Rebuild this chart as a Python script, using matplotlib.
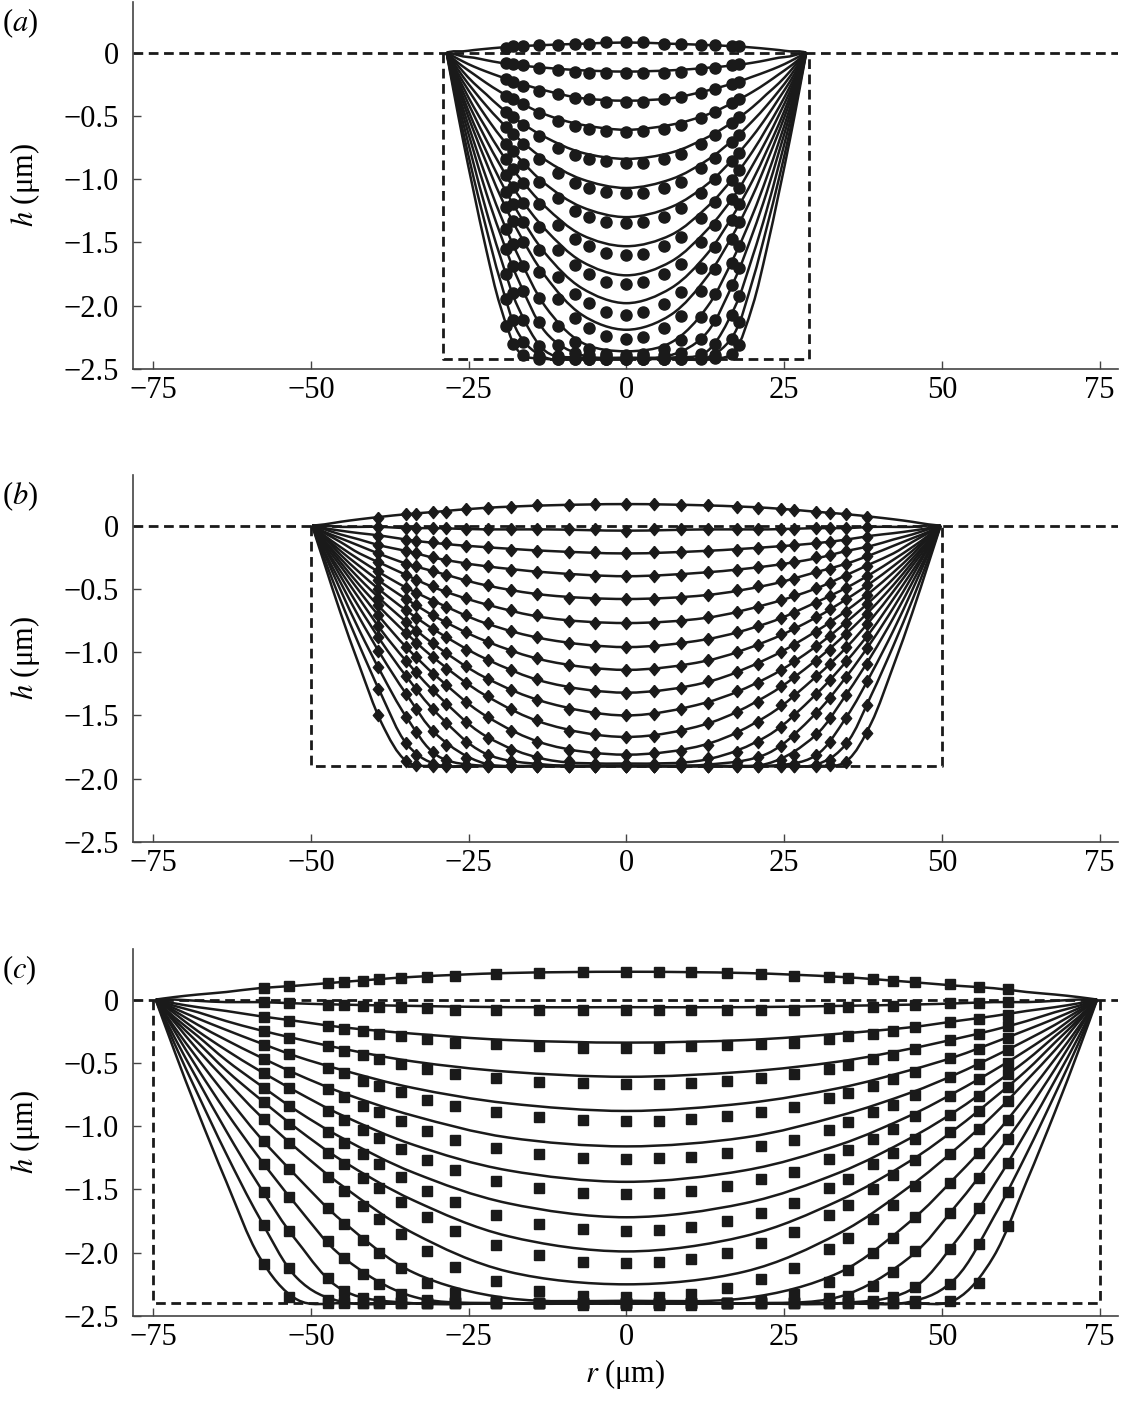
import numpy as np
import matplotlib
matplotlib.use('Agg')
import matplotlib.pyplot as plt
from matplotlib.path import Path
from matplotlib.patches import PathPatch

# all depths in um below the surface (h = -depth), negative = above the surface
# fitted profiles are half profiles from r = 0 out to the contact line

# ---- panel (a) ----
a_well = [29.0, 2.42]  # half width, depth of the dashed well
a_r_fit = [0, 7.1, 12.8, 17.1, 20.0, 22.2, 24.2, 25.9, 27.4, 28.5]
a_fit = [
    [-0.08, -0.07, -0.06, -0.05, -0.04, -0.03, -0.02, -0.01, -0.01, 0],
    [0.15, 0.14, 0.12, 0.10, 0.08, 0.06, 0.04, 0.03, 0.01, 0],
    [0.38, 0.36, 0.30, 0.24, 0.19, 0.15, 0.11, 0.07, 0.03, 0],
    [0.61, 0.57, 0.49, 0.39, 0.31, 0.24, 0.17, 0.11, 0.05, 0],
    [0.84, 0.79, 0.67, 0.54, 0.43, 0.33, 0.24, 0.15, 0.06, 0],
    [1.07, 1.00, 0.85, 0.68, 0.54, 0.42, 0.30, 0.19, 0.08, 0],
    [1.30, 1.22, 1.04, 0.83, 0.66, 0.51, 0.36, 0.23, 0.10, 0],
    [1.53, 1.44, 1.22, 0.98, 0.78, 0.60, 0.43, 0.27, 0.12, 0],
    [1.76, 1.65, 1.40, 1.13, 0.89, 0.69, 0.49, 0.31, 0.13, 0],
    [1.98, 1.86, 1.59, 1.27, 1.01, 0.78, 0.56, 0.35, 0.15, 0],
    [2.19, 2.07, 1.77, 1.42, 1.13, 0.87, 0.62, 0.39, 0.17, 0],
    [2.36, 2.29, 2.01, 1.61, 1.28, 0.99, 0.70, 0.44, 0.19, 0],
    [2.41, 2.39, 2.21, 1.80, 1.43, 1.11, 0.78, 0.49, 0.21, 0],
    [2.42, 2.41, 2.36, 2.02, 1.61, 1.25, 0.88, 0.55, 0.24, 0],
    [2.42, 2.42, 2.41, 2.22, 1.80, 1.39, 0.99, 0.62, 0.27, 0],
    [2.42, 2.42, 2.42, 2.36, 2.00, 1.56, 1.10, 0.69, 0.30, 0],
]
a_r_data = [-19.1, -18.0, -16.4, -13.8, -10.9, -8.2, -6.0, -3.2, 0.0, 2.7, 5.9, 8.7, 11.9, 14.1, 16.7, 17.9]
a_data = [
    [-0.04, -0.05, -0.05, -0.06, -0.06, -0.07, -0.07, -0.08, -0.08, -0.08, -0.07, -0.07, -0.06, -0.06, -0.05, -0.05],
    [0.08, 0.09, 0.10, 0.12, 0.14, 0.15, 0.16, 0.16, 0.16, 0.16, 0.16, 0.15, 0.13, 0.12, 0.10, 0.09],
    [0.21, 0.23, 0.26, 0.30, 0.33, 0.36, 0.37, 0.39, 0.39, 0.39, 0.37, 0.35, 0.32, 0.29, 0.25, 0.23],
    [0.34, 0.37, 0.41, 0.48, 0.54, 0.58, 0.60, 0.62, 0.63, 0.62, 0.60, 0.57, 0.52, 0.47, 0.40, 0.37],
    [0.47, 0.51, 0.57, 0.66, 0.75, 0.81, 0.84, 0.86, 0.87, 0.87, 0.84, 0.80, 0.72, 0.65, 0.56, 0.51],
    [0.59, 0.64, 0.72, 0.84, 0.95, 1.03, 1.07, 1.10, 1.11, 1.11, 1.07, 1.02, 0.91, 0.83, 0.71, 0.65],
    [0.72, 0.78, 0.88, 1.02, 1.15, 1.25, 1.30, 1.34, 1.35, 1.34, 1.30, 1.23, 1.11, 1.00, 0.86, 0.79],
    [0.84, 0.92, 1.03, 1.20, 1.36, 1.47, 1.53, 1.58, 1.60, 1.59, 1.53, 1.46, 1.31, 1.18, 1.01, 0.93],
    [0.97, 1.06, 1.19, 1.38, 1.56, 1.68, 1.75, 1.81, 1.83, 1.81, 1.75, 1.67, 1.50, 1.36, 1.16, 1.07],
    [1.10, 1.20, 1.34, 1.56, 1.77, 1.91, 1.98, 2.05, 2.07, 2.05, 1.99, 1.89, 1.70, 1.54, 1.32, 1.20],
    [1.22, 1.33, 1.50, 1.73, 1.95, 2.10, 2.18, 2.24, 2.26, 2.25, 2.18, 2.08, 1.88, 1.71, 1.47, 1.34],
    [1.39, 1.51, 1.69, 1.94, 2.16, 2.29, 2.34, 2.38, 2.39, 2.38, 2.34, 2.27, 2.09, 1.91, 1.66, 1.53],
    [1.55, 1.69, 1.88, 2.13, 2.31, 2.37, 2.39, 2.40, 2.41, 2.40, 2.39, 2.37, 2.26, 2.11, 1.84, 1.70],
    [1.75, 1.90, 2.11, 2.32, 2.40, 2.41, 2.42, 2.42, 2.42, 2.42, 2.42, 2.41, 2.38, 2.30, 2.07, 1.92],
    [1.95, 2.11, 2.29, 2.40, 2.42, 2.42, 2.42, 2.42, 2.42, 2.42, 2.42, 2.42, 2.41, 2.39, 2.26, 2.13],
    [2.16, 2.30, 2.39, 2.42, 2.42, 2.42, 2.42, 2.42, 2.42, 2.42, 2.42, 2.42, 2.42, 2.41, 2.38, 2.31],
]

# ---- panel (b) ----
b_well = [50.0, 1.90]
b_r_fit = [0, 12.5, 22.4, 29.9, 34.9, 38.8, 42.3, 45.3, 47.8, 49.8]
b_fit = [
    [-0.17, -0.16, -0.14, -0.11, -0.09, -0.07, -0.05, -0.03, -0.01, 0],
    [0.04, 0.03, 0.03, 0.02, 0.02, 0.01, 0.01, 0.01, 0.00, 0],
    [0.22, 0.20, 0.17, 0.14, 0.11, 0.08, 0.06, 0.04, 0.02, 0],
    [0.40, 0.37, 0.32, 0.26, 0.20, 0.16, 0.11, 0.07, 0.03, 0],
    [0.58, 0.55, 0.47, 0.37, 0.30, 0.23, 0.16, 0.10, 0.05, 0],
    [0.77, 0.73, 0.62, 0.50, 0.39, 0.30, 0.22, 0.13, 0.06, 0],
    [0.96, 0.90, 0.77, 0.61, 0.49, 0.38, 0.27, 0.17, 0.08, 0],
    [1.14, 1.07, 0.91, 0.73, 0.58, 0.45, 0.32, 0.20, 0.09, 0],
    [1.32, 1.24, 1.05, 0.84, 0.67, 0.52, 0.37, 0.23, 0.10, 0],
    [1.50, 1.40, 1.20, 0.96, 0.76, 0.59, 0.42, 0.26, 0.12, 0],
    [1.67, 1.57, 1.34, 1.07, 0.85, 0.66, 0.47, 0.29, 0.13, 0],
    [1.81, 1.73, 1.50, 1.20, 0.96, 0.74, 0.52, 0.32, 0.15, 0],
    [1.88, 1.85, 1.66, 1.34, 1.07, 0.83, 0.58, 0.36, 0.17, 0],
    [1.90, 1.89, 1.80, 1.49, 1.19, 0.92, 0.65, 0.40, 0.18, 0],
    [1.90, 1.90, 1.88, 1.66, 1.33, 1.03, 0.73, 0.45, 0.21, 0],
    [1.90, 1.90, 1.90, 1.82, 1.51, 1.17, 0.83, 0.51, 0.23, 0],
    [1.90, 1.90, 1.90, 1.89, 1.72, 1.34, 0.95, 0.59, 0.27, 0],
    [1.90, 1.90, 1.90, 1.90, 1.86, 1.56, 1.11, 0.69, 0.31, 0],
]
b_r_data = [-39.3, -34.9, -33.3, -30.7, -28.6, -25.4, -22.0, -18.3, -14.1, -9.1, -4.9, 0.0,
            4.3, 8.6, 12.9, 17.6, 20.8, 24.5, 26.6, 30.1, 32.2, 34.8, 38.1]
b_data = [
    [-0.06, -0.09, -0.09, -0.11, -0.11, -0.13, -0.14, -0.15, -0.16, -0.16, -0.17, -0.17, -0.17, -0.16, -0.16, -0.15, -0.14, -0.13, -0.12, -0.11, -0.10, -0.09, -0.07],
    [0.01, 0.02, 0.02, 0.02, 0.02, 0.03, 0.03, 0.03, 0.03, 0.03, 0.03, 0.04, 0.03, 0.03, 0.03, 0.03, 0.03, 0.03, 0.03, 0.02, 0.02, 0.02, 0.01],
    [0.08, 0.11, 0.12, 0.13, 0.14, 0.16, 0.17, 0.19, 0.20, 0.21, 0.21, 0.22, 0.21, 0.21, 0.20, 0.19, 0.18, 0.16, 0.15, 0.14, 0.13, 0.11, 0.09],
    [0.15, 0.20, 0.22, 0.25, 0.27, 0.30, 0.32, 0.35, 0.37, 0.39, 0.40, 0.40, 0.40, 0.39, 0.37, 0.35, 0.33, 0.30, 0.29, 0.25, 0.23, 0.20, 0.17],
    [0.22, 0.30, 0.32, 0.36, 0.39, 0.43, 0.47, 0.51, 0.54, 0.57, 0.58, 0.58, 0.58, 0.57, 0.55, 0.51, 0.48, 0.44, 0.42, 0.37, 0.34, 0.30, 0.24],
    [0.29, 0.39, 0.43, 0.48, 0.52, 0.57, 0.62, 0.67, 0.71, 0.75, 0.77, 0.77, 0.77, 0.75, 0.72, 0.68, 0.64, 0.59, 0.55, 0.49, 0.45, 0.40, 0.32],
    [0.36, 0.49, 0.53, 0.60, 0.64, 0.71, 0.77, 0.83, 0.88, 0.93, 0.95, 0.96, 0.95, 0.93, 0.90, 0.84, 0.79, 0.73, 0.69, 0.61, 0.56, 0.49, 0.40],
    [0.43, 0.58, 0.63, 0.71, 0.76, 0.84, 0.92, 0.99, 1.05, 1.10, 1.13, 1.14, 1.13, 1.11, 1.06, 1.00, 0.94, 0.86, 0.81, 0.72, 0.66, 0.58, 0.47],
    [0.50, 0.67, 0.73, 0.82, 0.88, 0.98, 1.06, 1.14, 1.21, 1.28, 1.31, 1.32, 1.31, 1.28, 1.23, 1.16, 1.09, 1.00, 0.94, 0.84, 0.77, 0.68, 0.55],
    [0.57, 0.76, 0.83, 0.93, 1.01, 1.11, 1.21, 1.30, 1.38, 1.45, 1.48, 1.50, 1.49, 1.45, 1.40, 1.31, 1.24, 1.14, 1.07, 0.95, 0.87, 0.77, 0.62],
    [0.63, 0.85, 0.93, 1.04, 1.13, 1.24, 1.35, 1.45, 1.54, 1.62, 1.65, 1.67, 1.66, 1.62, 1.56, 1.47, 1.39, 1.27, 1.20, 1.07, 0.98, 0.86, 0.70],
    [0.71, 0.96, 1.04, 1.17, 1.26, 1.39, 1.51, 1.62, 1.71, 1.77, 1.80, 1.81, 1.80, 1.78, 1.73, 1.64, 1.55, 1.42, 1.34, 1.19, 1.09, 0.96, 0.78],
    [0.79, 1.07, 1.16, 1.30, 1.41, 1.55, 1.68, 1.77, 1.83, 1.86, 1.88, 1.88, 1.88, 1.87, 1.84, 1.79, 1.71, 1.59, 1.50, 1.33, 1.22, 1.07, 0.87],
    [0.88, 1.19, 1.29, 1.45, 1.56, 1.71, 1.81, 1.86, 1.88, 1.89, 1.90, 1.90, 1.90, 1.89, 1.89, 1.87, 1.83, 1.74, 1.66, 1.48, 1.36, 1.20, 0.97],
    [0.99, 1.33, 1.45, 1.62, 1.73, 1.84, 1.88, 1.89, 1.90, 1.90, 1.90, 1.90, 1.90, 1.90, 1.90, 1.89, 1.89, 1.85, 1.81, 1.65, 1.52, 1.34, 1.09],
    [1.12, 1.51, 1.63, 1.79, 1.85, 1.89, 1.90, 1.90, 1.90, 1.90, 1.90, 1.90, 1.90, 1.90, 1.90, 1.90, 1.90, 1.89, 1.88, 1.81, 1.71, 1.52, 1.23],
    [1.29, 1.72, 1.81, 1.88, 1.89, 1.90, 1.90, 1.90, 1.90, 1.90, 1.90, 1.90, 1.90, 1.90, 1.90, 1.90, 1.90, 1.90, 1.90, 1.89, 1.85, 1.72, 1.42],
    [1.50, 1.86, 1.89, 1.90, 1.90, 1.90, 1.90, 1.90, 1.90, 1.90, 1.90, 1.90, 1.90, 1.90, 1.90, 1.90, 1.90, 1.90, 1.90, 1.90, 1.89, 1.87, 1.64],
]

# ---- panel (c) ----
c_well = [75.0, 2.40]
c_r_fit = [0, 18.7, 33.6, 44.8, 52.2, 58.2, 63.4, 67.9, 71.6, 74.6]
c_fit = [
    [-0.22, -0.21, -0.18, -0.14, -0.11, -0.09, -0.06, -0.04, -0.02, 0],
    [0.06, 0.06, 0.05, 0.04, 0.03, 0.02, 0.02, 0.01, 0.00, 0],
    [0.34, 0.32, 0.27, 0.22, 0.17, 0.13, 0.09, 0.06, 0.03, 0],
    [0.61, 0.57, 0.49, 0.39, 0.31, 0.24, 0.17, 0.10, 0.05, 0],
    [0.88, 0.82, 0.70, 0.56, 0.45, 0.34, 0.24, 0.15, 0.07, 0],
    [1.16, 1.09, 0.92, 0.74, 0.59, 0.45, 0.32, 0.20, 0.09, 0],
    [1.44, 1.35, 1.15, 0.92, 0.73, 0.56, 0.40, 0.25, 0.11, 0],
    [1.72, 1.61, 1.37, 1.10, 0.88, 0.67, 0.48, 0.29, 0.14, 0],
    [1.99, 1.87, 1.59, 1.28, 1.02, 0.78, 0.56, 0.34, 0.16, 0],
    [2.25, 2.15, 1.85, 1.48, 1.18, 0.91, 0.64, 0.40, 0.18, 0],
    [2.38, 2.36, 2.16, 1.76, 1.40, 1.08, 0.76, 0.47, 0.22, 0],
    [2.40, 2.40, 2.35, 2.04, 1.63, 1.25, 0.89, 0.55, 0.25, 0],
    [2.40, 2.40, 2.40, 2.30, 1.91, 1.47, 1.04, 0.64, 0.30, 0],
    [2.40, 2.40, 2.40, 2.39, 2.20, 1.72, 1.22, 0.75, 0.35, 0],
    [2.40, 2.40, 2.40, 2.40, 2.37, 2.03, 1.44, 0.89, 0.41, 0],
]
c_r_data = [-57.5, -53.4, -47.3, -44.8, -41.8, -39.2, -35.7, -31.6, -27.1, -20.6, -13.9, -6.9, 0.0,
            5.2, 10.3, 15.9, 21.4, 26.5, 32.1, 35.1, 39.1, 42.2, 45.7, 51.3, 55.8, 60.4]
c_data = [
    [-0.09, -0.11, -0.13, -0.14, -0.15, -0.16, -0.17, -0.18, -0.19, -0.20, -0.21, -0.22, -0.22, -0.22, -0.22, -0.21, -0.20, -0.19, -0.18, -0.17, -0.16, -0.15, -0.14, -0.12, -0.10, -0.08],
    [0.02, 0.03, 0.04, 0.04, 0.05, 0.06, 0.06, 0.07, 0.08, 0.08, 0.08, 0.08, 0.08, 0.08, 0.08, 0.08, 0.08, 0.08, 0.07, 0.06, 0.06, 0.05, 0.04, 0.03, 0.03, 0.02],
    [0.14, 0.17, 0.21, 0.23, 0.25, 0.27, 0.29, 0.31, 0.34, 0.35, 0.37, 0.38, 0.38, 0.38, 0.37, 0.36, 0.35, 0.34, 0.31, 0.29, 0.27, 0.25, 0.22, 0.18, 0.15, 0.12],
    [0.25, 0.30, 0.37, 0.41, 0.44, 0.47, 0.51, 0.55, 0.59, 0.62, 0.65, 0.66, 0.67, 0.67, 0.66, 0.64, 0.62, 0.59, 0.55, 0.52, 0.47, 0.44, 0.39, 0.32, 0.27, 0.21],
    [0.36, 0.43, 0.54, 0.58, 0.64, 0.68, 0.73, 0.79, 0.84, 0.89, 0.93, 0.95, 0.96, 0.96, 0.94, 0.92, 0.89, 0.85, 0.78, 0.74, 0.68, 0.63, 0.57, 0.46, 0.39, 0.30],
    [0.47, 0.57, 0.71, 0.77, 0.84, 0.89, 0.96, 1.04, 1.11, 1.17, 1.22, 1.25, 1.26, 1.25, 1.24, 1.21, 1.16, 1.11, 1.03, 0.97, 0.89, 0.83, 0.75, 0.61, 0.51, 0.40],
    [0.58, 0.70, 0.88, 0.95, 1.03, 1.09, 1.18, 1.27, 1.35, 1.43, 1.49, 1.53, 1.54, 1.53, 1.51, 1.47, 1.42, 1.36, 1.26, 1.19, 1.10, 1.02, 0.92, 0.76, 0.63, 0.50],
    [0.70, 0.84, 1.05, 1.13, 1.22, 1.30, 1.40, 1.51, 1.60, 1.70, 1.77, 1.81, 1.83, 1.82, 1.80, 1.75, 1.69, 1.61, 1.49, 1.42, 1.30, 1.21, 1.10, 0.91, 0.76, 0.59],
    [0.81, 0.98, 1.21, 1.30, 1.41, 1.49, 1.60, 1.72, 1.83, 1.94, 2.02, 2.07, 2.08, 2.07, 2.05, 2.00, 1.92, 1.84, 1.70, 1.62, 1.50, 1.39, 1.27, 1.05, 0.88, 0.69],
    [0.94, 1.13, 1.40, 1.51, 1.63, 1.73, 1.85, 1.99, 2.11, 2.22, 2.30, 2.34, 2.35, 2.35, 2.33, 2.28, 2.21, 2.12, 1.97, 1.88, 1.73, 1.62, 1.47, 1.22, 1.02, 0.80],
    [1.12, 1.34, 1.65, 1.77, 1.90, 2.00, 2.12, 2.24, 2.32, 2.38, 2.40, 2.41, 2.41, 2.41, 2.41, 2.40, 2.38, 2.33, 2.23, 2.14, 2.00, 1.88, 1.72, 1.45, 1.21, 0.95],
    [1.30, 1.56, 1.91, 2.04, 2.17, 2.25, 2.33, 2.37, 2.39, 2.39, 2.40, 2.40, 2.40, 2.40, 2.40, 2.40, 2.39, 2.39, 2.36, 2.34, 2.26, 2.15, 1.99, 1.69, 1.41, 1.10],
    [1.52, 1.83, 2.20, 2.30, 2.36, 2.38, 2.39, 2.40, 2.40, 2.40, 2.40, 2.40, 2.40, 2.40, 2.40, 2.40, 2.40, 2.40, 2.40, 2.39, 2.38, 2.35, 2.27, 1.97, 1.65, 1.29],
    [1.78, 2.12, 2.37, 2.39, 2.40, 2.40, 2.40, 2.40, 2.40, 2.40, 2.40, 2.40, 2.40, 2.40, 2.40, 2.40, 2.40, 2.40, 2.40, 2.40, 2.40, 2.40, 2.38, 2.25, 1.93, 1.52],
    [2.09, 2.35, 2.40, 2.40, 2.40, 2.40, 2.40, 2.40, 2.40, 2.40, 2.40, 2.40, 2.40, 2.40, 2.40, 2.40, 2.40, 2.40, 2.40, 2.40, 2.40, 2.40, 2.40, 2.38, 2.24, 1.79],
]

x_ticks = [-75, -50, -25, 0, 25, 50, 75]
x_tick_labels = ['\u221275', '\u221250', '\u221225', '0', '25', '50', '75']
y_ticks = [0, -0.5, -1.0, -1.5, -2.0, -2.5]
y_tick_labels = ['0', '\u22120.5', '\u22121.0', '\u22121.5', '\u22122.0', '\u22122.5']

plt.rcParams['font.family'] = 'Liberation Serif'
plt.rcParams['mathtext.fontset'] = 'stix'
plt.rcParams['font.size'] = 22

ink = '#1a1a1a'
diamond = [(0, 1), (0.85, 0), (0, -1), (-0.85, 0), (0, 1)]


def smooth_path(xs, ys):
    # smooth line through the points (Catmull-Rom as cubic Bezier segments)
    pts = np.column_stack([xs, ys])
    n = len(pts)
    verts = [pts[0]]
    codes = [Path.MOVETO]
    for i in range(n - 1):
        p0 = pts[i - 1] if i > 0 else pts[i]
        p1, p2 = pts[i], pts[i + 1]
        p3 = pts[i + 2] if i + 2 < n else pts[i + 1]
        verts += [p1 + (p2 - p0) / 6, p2 - (p3 - p1) / 6, p2]
        codes += [Path.CURVE4] * 3
    return Path(verts, codes)


panels = [
    ('a', a_well, a_r_fit, a_fit, a_r_data, a_data, 'o', 8, 0.7396),
    ('b', b_well, b_r_fit, b_fit, b_r_data, b_data, diamond, 8.8, 0.4058),
    ('c', c_well, c_r_fit, c_fit, c_r_data, c_data, 's', 6.5, 0.0713),
]

fig = plt.figure(figsize=(11.21, 14.17), dpi=100)
for name, well, r_fit, fit, r_data, data, marker, ms, bottom in panels:
    ax = fig.add_axes([0.1186, bottom, 0.8787, 0.2590])
    r_fit = np.array(r_fit)
    r_full = np.concatenate([-r_fit[::-1], r_fit[1:]])  # mirror the half profile
    for row in fit:
        row = np.array(row)
        h_full = -np.concatenate([row[::-1], row[1:]])
        ax.add_patch(PathPatch(smooth_path(r_full, h_full), fill=False, ec=ink, lw=1.8))
    for row in data:
        ax.plot(r_data, -np.array(row), ls='none', marker=marker, ms=ms, color=ink, mec=ink)

    # surface and well outline
    ax.axhline(0, color=ink, lw=2, dashes=(3.5, 2))
    half, depth = well
    ax.plot([-half, -half, half, half], [0, -depth, -depth, 0], color=ink, lw=2, dashes=(3.5, 2))

    ax.set_xlim(-78.2, 77.9)
    ax.set_ylim(-2.5, 0.4)
    ax.set_xticks(x_ticks)
    ax.set_xticklabels(x_tick_labels)
    ax.set_yticks(y_ticks)
    ax.set_yticklabels(y_tick_labels)
    ax.tick_params(direction='in', length=6, width=1, color='#444444', labelsize=22)
    ax.tick_params(axis='y', pad=10)
    ax.tick_params(axis='x', pad=5)
    for s in ['top', 'right']:
        ax.spines[s].set_visible(False)
    for s in ['left', 'bottom']:
        ax.spines[s].set_color('#444444')
        ax.spines[s].set_linewidth(1.2)
    ax.set_ylabel('$h$ (\u03bcm)', fontsize=22)
    ax.yaxis.set_label_coords(-0.092, 0.5)
    fig.text(0.002, bottom + 0.2590 - 0.015, '($\\mathit{' + name + '}$)', fontsize=22, va='center')

ax.set_xlabel('$r$ (\u03bcm)', fontsize=22)
fig.savefig('out.png', dpi=100)
